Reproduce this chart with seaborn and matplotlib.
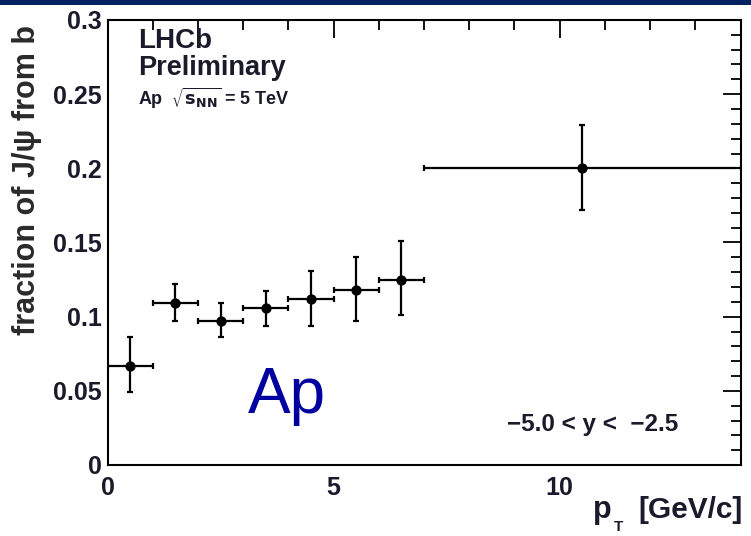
import matplotlib
matplotlib.use("Agg")
import matplotlib.pyplot as plt
import seaborn as sns
import pandas as pd
import numpy as np
from matplotlib.ticker import MultipleLocator, FuncFormatter
from matplotlib.patches import Rectangle

# ---- data ----
pt_center = [0.5, 1.5, 2.5, 3.5, 4.5, 5.5, 6.5, 10.5]
pt_halfwidth = [0.5, 0.5, 0.5, 0.5, 0.5, 0.5, 0.5, 3.5]
frac_b = [0.067, 0.109, 0.097, 0.106, 0.112, 0.118, 0.125, 0.200]
err_up = [0.019, 0.013, 0.012, 0.011, 0.019, 0.022, 0.026, 0.029]
err_down = [0.018, 0.012, 0.011, 0.012, 0.018, 0.021, 0.024, 0.028]

df = pd.DataFrame({"pt": pt_center, "frac": frac_b})

sns.set_theme(style="white")
FAM = ["Liberation Sans", "DejaVu Sans"]
plt.rcParams["font.family"] = FAM

fig = plt.figure(figsize=(7.51, 5.36), dpi=100)
ax = fig.add_axes([107.5 / 751, (536 - 465) / 536, (740.5 - 107.5) / 751, (465 - 20) / 536])

ax.errorbar(pt_center, frac_b, xerr=pt_halfwidth, yerr=[err_down, err_up],
            fmt="none", ecolor="black", elinewidth=1.6, capsize=2.5, capthick=1.6, zorder=2)
sns.scatterplot(data=df, x="pt", y="frac", ax=ax, color="black", s=55,
                edgecolor="black", linewidth=0, zorder=3, legend=False)

ax.set_xlim(0, 14)
ax.set_ylim(0, 0.3)
ax.xaxis.set_major_locator(MultipleLocator(5))
ax.xaxis.set_minor_locator(MultipleLocator(1))
ax.yaxis.set_major_locator(MultipleLocator(0.05))
ax.yaxis.set_minor_locator(MultipleLocator(0.01))
ax.yaxis.set_major_formatter(FuncFormatter(lambda v, p: ("%g" % round(v, 3))))

ax.tick_params(which="both", direction="in", top=True, right=True, width=1.3,
               colors="black", labelsize=18, labelcolor="#1a1a2a")
ax.tick_params(which="major", length=13)
ax.tick_params(which="minor", length=7)
ax.tick_params(axis="x", which="major", pad=8)
ax.tick_params(axis="y", which="major", pad=4)
for lab in ax.get_xticklabels() + ax.get_yticklabels():
    lab.set_fontweight("bold")
for s in ax.spines.values():
    s.set_linewidth(1.5)
    s.set_color("black")

ax.set_xlabel("")
ax.set_ylabel("fraction of J/\u03c8 from b", fontsize=22, fontweight="bold", color="#2a2a2a")
ax.yaxis.set_label_coords((42 - 107.5) / 633, 0.640)

fig.text(593 / 751, (536 - 518) / 536, "p", ha="left", va="baseline", fontsize=22,
         fontweight="bold", color="#1a1a2a")
fig.text(614 / 751, (536 - 531) / 536, "T", ha="left", va="baseline", fontsize=11,
         fontweight="bold", color="#1a1a2a")
fig.text(743 / 751, (536 - 518) / 536, "[GeV/c]", ha="right", va="baseline", fontsize=21.5,
         fontweight="bold", color="#1a1a2a")

ax.text(0.048, 0.937, "LHCb", transform=ax.transAxes, fontsize=20, fontweight="bold",
        color="#1a1a2a", va="baseline")
ax.text(0.048, 0.876, "Preliminary", transform=ax.transAxes, fontsize=19.5, fontweight="bold",
        color="#1a1a2a", va="baseline")
ax.text(0.048, 0.809, r"Ap  $\sqrt{\mathbf{s}_{\mathbf{NN}}}$ = 5 TeV", transform=ax.transAxes,
        fontsize=13, fontweight="bold", color="#1a1a2a", va="baseline")
ax.text(0.631, 0.076, "\u22125.0 < y <  \u22122.5", transform=ax.transAxes, fontsize=17.5,
        fontweight="bold", color="#1a1a2a", va="baseline")

fig.text(287 / 751, (536 - 396) / 536, "Ap", ha="center", va="center", fontsize=46,
         color="#0000A0")

fig.patches.append(Rectangle((0, 1 - 5 / 536), 1, 5 / 536, transform=fig.transFigure,
                             facecolor="#002060", edgecolor="none", zorder=5))

fig.savefig("out.png", dpi=100)
